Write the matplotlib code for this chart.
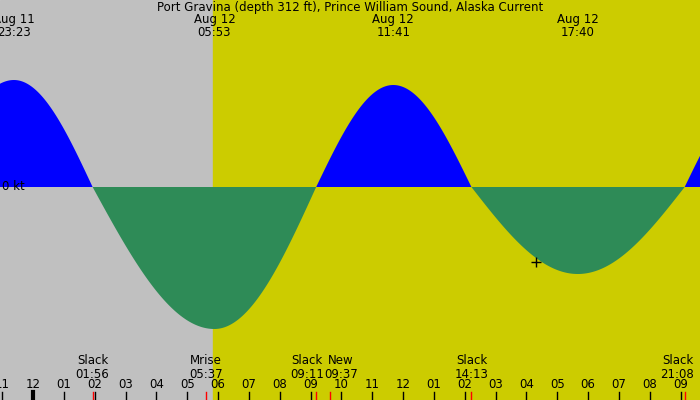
import numpy as np
import matplotlib
matplotlib.use("Agg")
import matplotlib.pyplot as plt
from matplotlib.transforms import blended_transform_factory

title = "Port Gravina (depth 312 ft), Prince William Sound, Alaska Current"
# event times in hours from midnight Aug 12, speeds in kt
event_hours = [-3.3, -0.617, 1.933, 5.883, 9.183, 11.683, 14.217, 17.667, 21.133, 23.6]
event_speeds = [0.0, 1.07, 0.0, -1.42, 0.0, 1.02, 0.0, -0.87, 0.0, 1.0]
peak_dates = ["Aug 11", "Aug 12", "Aug 12", "Aug 12"]
peak_times = ["23:23", "05:53", "11:41", "17:40"]
peak_hours = [-0.617, 5.883, 11.683, 17.667]
ev_names = ["Slack", "Mrise", "Slack", "New", "Slack", "Slack", "Mset"]
ev_times = ["01:56", "05:37", "09:11", "09:37", "14:13", "21:08", "22:10"]
ev_hours = [1.933, 5.617, 9.183, 9.617, 14.217, 21.133, 22.17]
ev_label_hours = [1.933, 5.617, 8.89, 9.98, 14.217, 20.9, 22.15]
hour_labels = ["11", "12", "01", "02", "03", "04", "05", "06", "07", "08", "09", "10",
               "11", "12", "01", "02", "03", "04", "05", "06", "07", "08", "09"]
hour_ticks = list(range(-1, 22))
sunrise = 5.84

x0, x1 = -1.07, 21.63
y0, y1 = -2.13, 1.87

fig = plt.figure(figsize=(7, 4), dpi=100)
ax = fig.add_axes([0, 0, 1, 1])
ax.set_xlim(x0, x1); ax.set_ylim(y0, y1); ax.axis("off")
ax.axvspan(x0, sunrise, color="#c0c0c0", zorder=0)
ax.axvspan(sunrise, x1, color="#cccc00", zorder=0)

# sinusoidal quarter-wave segments between read events
ts, vs = [], []
for i in range(len(event_hours) - 1):
    ta, tb = event_hours[i], event_hours[i + 1]
    va, vb = event_speeds[i], event_speeds[i + 1]
    t = np.linspace(ta, tb, 80)
    u = (t - ta) / (tb - ta)
    if va == 0:
        v = vb * np.sin(np.pi / 2 * u)
    else:
        v = va * np.cos(np.pi / 2 * u)
    ts.append(t); vs.append(v)
t = np.concatenate(ts); v = np.concatenate(vs)
ax.fill_between(t, 0, v, where=v >= 0, color="#0000ff", lw=0, interpolate=True, zorder=2)
ax.fill_between(t, 0, v, where=v <= 0, color="#2e8b57", lw=0, interpolate=True, zorder=2)

fs = 8.5
ax.text(x0 + 0.07, 0, "0 kt", fontsize=fs, va="center", ha="left", zorder=3)
ax.text((x0 + x1) / 2, 1.87 - 0.08, title, fontsize=fs, ha="center", va="center")
for d, tm, h in zip(peak_dates, peak_times, peak_hours):
    ax.text(h, 1.87 - 0.19, d, fontsize=fs, ha="center", va="center")
    ax.text(h, 1.87 - 0.32, tm, fontsize=fs, ha="center", va="center")

tr = blended_transform_factory(ax.transData, ax.transAxes)
for n, tm, h, lh in zip(ev_names, ev_times, ev_hours, ev_label_hours):
    ax.text(lh, 1 - 361 / 400, n, fontsize=fs, ha="center", va="center", transform=tr)
    ax.text(lh, 1 - 374 / 400, tm, fontsize=fs, ha="center", va="center", transform=tr)
    ax.plot([h, h], [0, 8 / 400], color="red", lw=1, transform=tr, zorder=4)
for h, lab in zip(hour_ticks, hour_labels):
    ax.text(h, 1 - 385 / 400, lab, fontsize=fs, ha="center", va="center", transform=tr)
    ax.plot([h, h], [0, 8 / 400], color="black", lw=3 if h == 0 else 1, transform=tr, zorder=5)

ax.plot(16.3, 1.87 - 2.62, marker="+", color="black", ms=7, mew=1, zorder=6)
fig.savefig("out.png", dpi=100)
